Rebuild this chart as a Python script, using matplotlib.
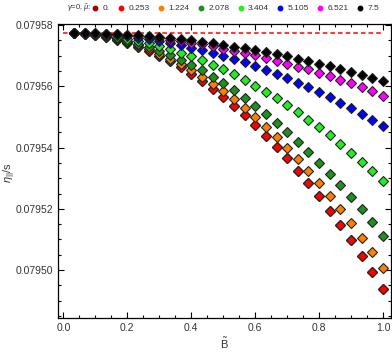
import matplotlib
matplotlib.use("Agg")
import matplotlib.pyplot as plt
from matplotlib.lines import Line2D
from matplotlib.ticker import MultipleLocator
import numpy as np

plt.rcParams['font.family'] = ['Liberation Sans', 'DejaVu Sans']
plt.rcParams['mathtext.fontset'] = 'custom'
plt.rcParams['mathtext.rm'] = 'Liberation Sans'
plt.rcParams['mathtext.it'] = 'Liberation Sans:italic'

# B tilde values (30 points)
B = [k / 30 for k in range(1, 31)]

mu_labels = ["0.", "0.253", "1.224", "2.078", "3.404", "5.105", "6.521", "7.5"]
colors = ["#a00000", "#ff0000", "#ff8000", "#1f8f1f", "#22ee22", "#0000ff", "#ff00ff", "#000000"]

eta_red = [0.07957741, 0.07957713, 0.07957667, 0.07957602, 0.07957518, 0.07957416,
           0.07957295, 0.07957156, 0.07956998, 0.07956822, 0.07956627, 0.07956414,
           0.07956171, 0.07955910, 0.07955639, 0.07955355, 0.07955052, 0.07954726,
           0.07954390, 0.07954031, 0.07953659, 0.07953248, 0.07952833, 0.07952409,
           0.07951943, 0.07951463, 0.07950974, 0.07950461, 0.07949939, 0.07949398]
eta_mu0 = [0.07957741, 0.07957713, 0.07957667, 0.07957602, 0.07957518, 0.07957416,
           0.07957295, 0.07957156, 0.07956998, 0.07956822, 0.07956627, 0.07956414,
           0.07956171, 0.07955910, 0.07955639, 0.07955355, 0.07955052, 0.07954726,
           0.07954390, 0.07954031, 0.07953659, 0.07953248, 0.07952833, 0.07952409,
           0.07951943, 0.07951463, 0.07950974, 0.07950461, 0.07949939, 0.07949398]
eta_orange = [0.07957742, 0.07957716, 0.07957673, 0.07957613, 0.07957536, 0.07957442,
              0.07957331, 0.07957203, 0.07957058, 0.07956896, 0.07956716, 0.07956520,
              0.07956292, 0.07956086, 0.07955835, 0.07955574, 0.07955290, 0.07954987,
              0.07954670, 0.07954334, 0.07953998, 0.07953626, 0.07953235, 0.07952833,
              0.07952432, 0.07951985, 0.07951538, 0.07951062, 0.07950582, 0.07950060]
eta_green = [0.07957743, 0.07957721, 0.07957684, 0.07957632, 0.07957566, 0.07957485,
             0.07957389, 0.07957278, 0.07957153, 0.07957013, 0.07956858, 0.07956688,
             0.07956520, 0.07956314, 0.07956106, 0.07955867, 0.07955629, 0.07955368,
             0.07955084, 0.07954801, 0.07954507, 0.07954194, 0.07953845, 0.07953509,
             0.07953150, 0.07952768, 0.07952386, 0.07951985, 0.07951561, 0.07951114]
eta_lime = [0.07957745, 0.07957729, 0.07957702, 0.07957664, 0.07957616, 0.07957557,
            0.07957487, 0.07957407, 0.07957315, 0.07957214, 0.07957101, 0.07956977,
            0.07956846, 0.07956706, 0.07956553, 0.07956389, 0.07956204, 0.07956021,
            0.07955812, 0.07955606, 0.07955388, 0.07955159, 0.07954912, 0.07954660,
            0.07954399, 0.07954129, 0.07953835, 0.07953541, 0.07953235, 0.07952921]
eta_blue = [0.07957747, 0.07957737, 0.07957720, 0.07957696, 0.07957665, 0.07957628,
            0.07957584, 0.07957533, 0.07957476, 0.07957411, 0.07957341, 0.07957263,
            0.07957195, 0.07957084, 0.07957000, 0.07956889, 0.07956781, 0.07956660,
            0.07956530, 0.07956399, 0.07956259, 0.07956119, 0.07955965, 0.07955802,
            0.07955639, 0.07955466, 0.07955280, 0.07955094, 0.07954912, 0.07954703]
eta_magenta = [0.07957748, 0.07957741, 0.07957729, 0.07957713, 0.07957692, 0.07957667,
               0.07957637, 0.07957603, 0.07957564, 0.07957520, 0.07957472, 0.07957419,
               0.07957368, 0.07957305, 0.07957215, 0.07957150, 0.07957084, 0.07957009,
               0.07956921, 0.07956836, 0.07956739, 0.07956641, 0.07956553, 0.07956445,
               0.07956324, 0.07956217, 0.07956096, 0.07955965, 0.07955835, 0.07955681]
eta_black = [0.07957748, 0.07957743, 0.07957734, 0.07957722, 0.07957706, 0.07957686,
             0.07957664, 0.07957637, 0.07957607, 0.07957573, 0.07957536, 0.07957496,
             0.07957443, 0.07957411, 0.07957358, 0.07957280, 0.07957238, 0.07957182,
             0.07957117, 0.07957052, 0.07956987, 0.07956902, 0.07956814, 0.07956739,
             0.07956650, 0.07956562, 0.07956465, 0.07956367, 0.07956269, 0.07956161]

series = [eta_mu0, eta_red, eta_orange, eta_green, eta_lime, eta_blue, eta_magenta, eta_black]

kss_bound = 1 / (4 * np.pi)

fig = plt.figure(figsize=(3.92, 3.54), dpi=100)
ax = fig.add_axes([0.148, 0.102, 0.849, 0.83])

# KSS bound, drawn over the B range only
ax.hlines(kss_bound, 0.0, 1.0, color='red', ls=(0, (3, 2)), lw=1.1, zorder=1)

for ys, c in zip(series, colors):
    ax.plot(B, ys, ls='none', marker='D', ms=4.9, mfc=c, mec='#222222', mew=0.8, zorder=3)

ax.set_xlim(-0.0166, 1.0241)
ax.set_ylim(0.0794844, 0.0795803)

ax.xaxis.set_major_locator(MultipleLocator(0.2))
ax.xaxis.set_minor_locator(MultipleLocator(0.05))
ax.yaxis.set_major_locator(MultipleLocator(0.00002))
ax.yaxis.set_minor_locator(MultipleLocator(0.000005))
ax.yaxis.set_major_formatter(plt.FuncFormatter(lambda v, p: f"{v:.5f}"))
ax.xaxis.set_major_formatter(plt.FuncFormatter(lambda v, p: f"{v:.1f}"))

ax.tick_params(which='both', direction='in', top=True, right=True,
               labelsize=7.5, labelcolor='#333333', width=0.8)
ax.tick_params(which='major', length=4)
ax.tick_params(which='minor', length=2)
for s in ax.spines.values():
    s.set_linewidth(0.9)

ax.set_xlabel(r'$\tilde{\mathrm{B}}$', fontsize=8, color='#333333', labelpad=2)
fig.text(10 / 392, 1 - 173 / 354, r'$\eta_{||}$/s', fontsize=8, color='#333333',
         rotation=90, ha='center', va='center')

# legend row above the frame
fig.text(67 / 392, 1 - 8.5 / 354, r'$\gamma$=0, $\tilde{\mu}$:', fontsize=5.5,
         color='#333333', ha='left', va='center')
handles = [Line2D([], [], ls='none', marker='o', ms=3.2, mfc=c, mec=c) for c in colors]
fig.legend(handles, mu_labels, ncol=8, loc='center left',
           bbox_to_anchor=(92 / 392, 1 - 8.5 / 354), frameon=False, fontsize=6,
           handlelength=0.8, handletextpad=0.5, columnspacing=0.95,
           borderpad=0, borderaxespad=0, labelcolor='#333333')

fig.savefig('out.png', dpi=100)
